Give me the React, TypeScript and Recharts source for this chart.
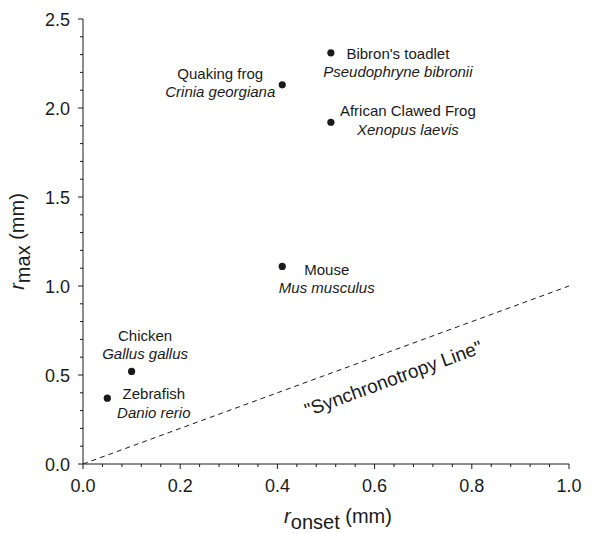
import { ScatterChart, Scatter, XAxis, YAxis, ReferenceLine } from 'recharts'

const commonNames = ['Zebrafish', 'Chicken', 'Mouse', 'Quaking frog', 'African Clawed Frog', "Bibron's toadlet"]
const speciesNames = ['Danio rerio', 'Gallus gallus', 'Mus musculus', 'Crinia georgiana', 'Xenopus laevis', 'Pseudophryne bibronii']
const onsetValues = [0.05, 0.1, 0.41, 0.41, 0.51, 0.51]
const maxValues = [0.37, 0.52, 1.11, 2.13, 1.92, 2.31]

const xTicks = [0, 0.04, 0.08, 0.12, 0.16, 0.2, 0.24, 0.28, 0.32, 0.36, 0.4, 0.44, 0.48, 0.52, 0.56, 0.6, 0.64, 0.68, 0.72, 0.76, 0.8, 0.84, 0.88, 0.92, 0.96, 1.0]
const yTicks = [0, 0.1, 0.2, 0.3, 0.4, 0.5, 0.6, 0.7, 0.8, 0.9, 1.0, 1.1, 1.2, 1.3, 1.4, 1.5, 1.6, 1.7, 1.8, 1.9, 2.0, 2.1, 2.2, 2.3, 2.4, 2.5]
const lineStart = { x: 0, y: 0 }
const lineEnd = { x: 1, y: 1 }
const lineLabel = '"Synchronotropy Line"'

// where each two-line label sits relative to its dot (px)
const labelPlacement: Record<string, { dx: number; dy: number }> = {
  Zebrafish: { dx: 46.5, dy: -3.7 },
  Chicken: { dx: 13.5, dy: -35.7 },
  Mouse: { dx: 44.5, dy: 3.3 },
  'Quaking frog': { dx: -62, dy: -11 },
  'African Clawed Frog': { dx: 77, dy: -11 },
  "Bibron's toadlet": { dx: 67, dy: 1 },
}

const ink = '#1a1a1a'
const font = '"Liberation Sans", Arial, Helvetica, sans-serif'

const points = commonNames.map((common, i) => ({
  common,
  species: speciesNames[i],
  onset: onsetValues[i],
  max: maxValues[i],
}))

const XTick = ({ x, y, payload }: any) => {
  const major = Math.round(payload.value * 100) % 20 === 0
  return (
    <g>
      <line x1={x} x2={x} y1={y} y2={y + (major ? 5 : 3)} stroke={ink} />
      {major && (
        <text x={x} y={y + 27.5} textAnchor="middle" fontSize={18} fill={ink} fontFamily={font}>
          {payload.value.toFixed(1)}
        </text>
      )}
    </g>
  )
}

const YTick = ({ x, y, payload }: any) => {
  const major = Math.round(payload.value * 10) % 5 === 0
  return (
    <g>
      <line x1={x - (major ? 5 : 3)} x2={x} y1={y} y2={y} stroke={ink} />
      {major && (
        <text x={x - 13} y={y + 6.5} textAnchor="end" fontSize={18} fill={ink} fontFamily={font}>
          {payload.value.toFixed(1)}
        </text>
      )}
    </g>
  )
}

const XTitle = ({ viewBox }: any) => {
  const cx = viewBox.x + viewBox.width / 2 + 12
  const by = viewBox.y + 59
  return (
    <text x={cx} y={by} textAnchor="middle" fontSize={20} fill={ink} fontFamily={font}>
      <tspan fontStyle="italic">r</tspan>
      <tspan dy={6}>onset</tspan>
      <tspan dy={-6}>{'\u00a0(mm)'}</tspan>
    </text>
  )
}

const YTitle = ({ viewBox }: any) => {
  const bx = 23.5
  const cy = viewBox.y + viewBox.height / 2
  return (
    <text
      x={bx}
      y={cy}
      transform={`rotate(-90 ${bx} ${cy})`}
      textAnchor="middle"
      fontSize={20}
      fill={ink}
      fontFamily={font}
    >
      <tspan fontStyle="italic">r</tspan>
      <tspan dy={6}>max</tspan>
      <tspan dy={-6}>{'\u00a0(mm)'}</tspan>
    </text>
  )
}

const LineLabel = ({ viewBox }: any) => {
  if (!viewBox) return null
  const x0 = viewBox.x
  const y0 = viewBox.y + viewBox.height
  const x1 = viewBox.x + viewBox.width
  const y1 = viewBox.y
  const len = Math.hypot(x1 - x0, y1 - y0)
  const ux = (x1 - x0) / len
  const uy = (y1 - y0) / len
  const t = 0.62
  const off = 27
  // point along the line, pushed below it
  const px = x0 + (x1 - x0) * t - uy * off
  const py = y0 + (y1 - y0) * t + ux * off
  const angle = (Math.atan2(y1 - y0, x1 - x0) * 180) / Math.PI
  return (
    <text
      x={px}
      y={py + 6}
      transform={`rotate(${angle} ${px} ${py})`}
      textAnchor="middle"
      fontSize={19}
      fill={ink}
      fontFamily={font}
    >
      {lineLabel}
    </text>
  )
}

const SpeciesDot = ({ cx, cy, payload }: any) => {
  const place = labelPlacement[payload.common]
  const lx = cx + place.dx
  const ly = cy + place.dy + 5
  return (
    <g>
      <circle cx={cx} cy={cy} r={3.6} fill={ink} />
      <text x={lx} y={ly} textAnchor="middle" fontSize={15} fill={ink} fontFamily={font}>
        {payload.common}
      </text>
      <text x={lx} y={ly + 18.5} textAnchor="middle" fontSize={15} fontStyle="italic" fill={ink} fontFamily={font}>
        {payload.species}
      </text>
    </g>
  )
}

export default function App() {
  return (
    <div style={{ position: 'absolute', left: 0, top: 0, background: '#fff' }}>
      <ScatterChart width={596} height={533} margin={{ top: 19, right: 27, left: 0, bottom: 0 }}>
        <XAxis
          type="number"
          dataKey="onset"
          domain={[0, 1]}
          ticks={xTicks}
          interval={0}
          height={69}
          tickLine={false}
          tickSize={0}
          tickMargin={0}
          axisLine={{ stroke: ink }}
          tick={<XTick />}
          label={{ content: <XTitle /> }}
        />
        <YAxis
          type="number"
          dataKey="max"
          domain={[0, 2.5]}
          ticks={yTicks}
          interval={0}
          width={83}
          tickLine={false}
          tickSize={0}
          tickMargin={0}
          axisLine={{ stroke: ink }}
          tick={<YTick />}
          label={{ content: <YTitle /> }}
        />
        <ReferenceLine
          segment={[lineStart, lineEnd]}
          stroke={ink}
          strokeWidth={1}
          strokeDasharray="5 4"
          label={{ content: <LineLabel /> }}
        />
        <Scatter data={points} shape={<SpeciesDot />} isAnimationActive={false} />
      </ScatterChart>
    </div>
  )
}
